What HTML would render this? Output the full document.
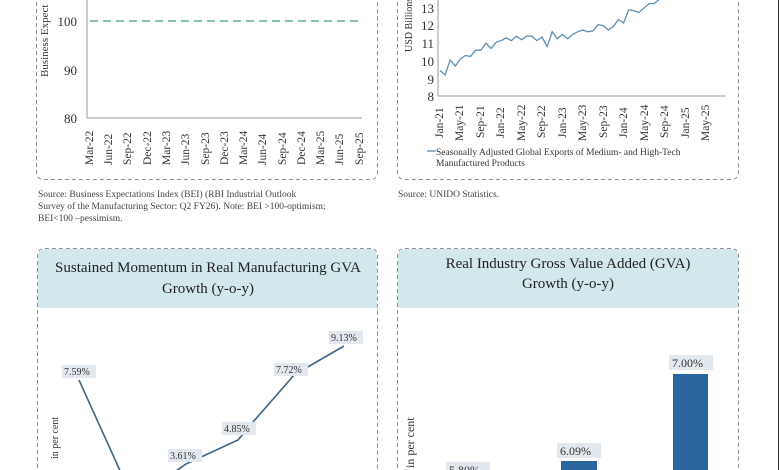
<!DOCTYPE html>
<html><head><meta charset="utf-8"><style>
html,body{margin:0;padding:0;background:#fff;}
svg{display:block;font-family:"Liberation Serif",serif;}
</style></head><body>
<svg width="780" height="470" viewBox="0 0 780 470" xmlns="http://www.w3.org/2000/svg">
<rect width="780" height="470" fill="#fff"/>
<line x1="778.5" y1="0" x2="778.5" y2="470" stroke="#333" stroke-width="1"/>
<!-- Top-left panel -->
<path d="M36.5,-5 V172 Q36.5,179.5 44,179.5 H370 Q377.5,179.5 377.5,172 V-5" fill="none" stroke="#8a8f96" stroke-width="1" stroke-dasharray="4,3"/>
<text transform="translate(48,77) rotate(-90)" font-size="11" fill="#333">Business Expect</text>
<g font-size="13" fill="#333" text-anchor="end">
<text x="77" y="26">100</text><text x="77" y="75">90</text><text x="77" y="123">80</text>
</g>
<line x1="87" y1="0" x2="87" y2="118" stroke="#999" stroke-width="1"/>
<line x1="87" y1="118" x2="362" y2="118" stroke="#999" stroke-width="1"/>
<line x1="90" y1="21" x2="360" y2="21" stroke="#5fae8c" stroke-width="1.5" stroke-dasharray="8,5"/>
<g font-size="11.5" fill="#333">
<text transform="translate(93,165) rotate(-90)">Mar-22</text>
<text transform="translate(112,165) rotate(-90)">Jun-22</text>
<text transform="translate(131,165) rotate(-90)">Sep-22</text>
<text transform="translate(151,165) rotate(-90)">Dec-22</text>
<text transform="translate(170,165) rotate(-90)">Mar-23</text>
<text transform="translate(189,165) rotate(-90)">Jun-23</text>
<text transform="translate(209,165) rotate(-90)">Sep-23</text>
<text transform="translate(228,165) rotate(-90)">Dec-23</text>
<text transform="translate(247,165) rotate(-90)">Mar-24</text>
<text transform="translate(266,165) rotate(-90)">Jun-24</text>
<text transform="translate(286,165) rotate(-90)">Sep-24</text>
<text transform="translate(305,165) rotate(-90)">Dec-24</text>
<text transform="translate(324,165) rotate(-90)">Mar-25</text>
<text transform="translate(343,165) rotate(-90)">Jun-25</text>
<text transform="translate(363,165) rotate(-90)">Sep-25</text>
</g>
<g font-size="9.5" fill="#444">
<text x="38" y="197">Source: Business Expectations Index (BEI) (RBI Industrial Outlook</text>
<text x="38" y="209">Survey of the Manufacturing Sector: Q2 FY26). Note: BEI &gt;100-optimism;</text>
<text x="38" y="221">BEI&lt;100 –pessimism.</text>
</g>
<!-- Top-right panel -->
<path d="M397.5,-5 V172 Q397.5,179.5 405,179.5 H731 Q738.5,179.5 738.5,172 V-5" fill="none" stroke="#8a8f96" stroke-width="1" stroke-dasharray="4,3"/>
<text transform="translate(412,52) rotate(-90)" font-size="10" fill="#333">USD Billions</text>
<g font-size="13" fill="#333" text-anchor="end">
<text x="434" y="13">13</text><text x="434" y="30">12</text><text x="434" y="48">11</text>
<text x="434" y="66">10</text><text x="434" y="84">9</text><text x="434" y="101">8</text>
</g>
<line x1="438" y1="0" x2="438" y2="96" stroke="#999"/>
<line x1="438" y1="96" x2="726" y2="96" stroke="#999"/>
<polyline fill="none" stroke="#5f8fb4" stroke-width="1.3" points="440,70.5 445.1,74.9 450.2,59.9 455.3,66.1 460.4,59 465.5,55.5 470.6,56.4 475.7,50.2 480.8,50.2 485.9,43.2 491,48.5 496.1,42.3 501.2,40.6 506.3,37.9 511.4,40.6 516.5,36.2 521.6,39.7 526.7,36.2 531.8,36.2 536.9,40.6 542,37 547.1,46.7 552.2,31.8 557.3,38.8 562.4,34.4 567.5,38.8 572.6,34.4 577.7,31.8 582.8,30 587.9,31.8 593,30.9 598.1,24.7 603.2,25.6 608.3,30 613.4,26.5 618.5,19.4 623.6,23 628.7,9.8 633.8,10.6 638.9,12.4 644,8 649.1,3.6 654.2,3.6 659.3,-0.8 664.4,-6"/>
<g font-size="11.5" fill="#333">
<text transform="translate(443,138) rotate(-90)">Jan-21</text>
<text transform="translate(463,141) rotate(-90)">May-21</text>
<text transform="translate(484,138) rotate(-90)">Sep-21</text>
<text transform="translate(504,138) rotate(-90)">Jan-22</text>
<text transform="translate(525,141) rotate(-90)">May-22</text>
<text transform="translate(545,138) rotate(-90)">Sep-22</text>
<text transform="translate(566,138) rotate(-90)">Jan-23</text>
<text transform="translate(586,141) rotate(-90)">May-23</text>
<text transform="translate(607,138) rotate(-90)">Sep-23</text>
<text transform="translate(627,138) rotate(-90)">Jan-24</text>
<text transform="translate(648,141) rotate(-90)">May-24</text>
<text transform="translate(668,138) rotate(-90)">Sep-24</text>
<text transform="translate(689,138) rotate(-90)">Jan-25</text>
<text transform="translate(709,141) rotate(-90)">May-25</text>
</g>
<line x1="427" y1="151" x2="436" y2="151" stroke="#5f8fb4" stroke-width="1.3"/>
<g font-size="9.5" fill="#333">
<text x="436" y="155">Seasonally Adjusted Global Exports of Medium- and High-Tech</text>
<text x="436" y="166">Manufactured Products</text>
</g>
<text x="398" y="197" font-size="9.5" fill="#444">Source: UNIDO Statistics.</text>
<!-- Bottom-left panel -->
<path d="M37.5,475 V256 Q37.5,248.5 45,248.5 H370 Q377.5,248.5 377.5,256 V475" fill="#fff" stroke="#8a8f96" stroke-width="1" stroke-dasharray="4,3"/>
<path d="M38,257 Q38,249 46,249 H369 Q377,249 377,257 V308 H38 Z" fill="#d3e8ec"/>
<g font-size="15" fill="#222" text-anchor="middle">
<text x="208" y="272">Sustained Momentum in Real Manufacturing GVA</text>
<text x="208" y="293">Growth (y-o-y)</text>
</g>
<text transform="translate(58,459) rotate(-90)" font-size="10" fill="#333">in per cent</text>
<polyline fill="none" stroke="#3d6587" stroke-width="1.6" points="79,380 122,475"/>
<polyline fill="none" stroke="#3d6587" stroke-width="1.6" points="170,475 186,464 199,458 238,440 253,422 295,374 306,368 344,346"/>
<g font-size="10" fill="#333">
<rect x="62" y="365" width="34" height="13" fill="#e2e8ee"/><text x="64" y="375">7.59%</text>
<rect x="168" y="449" width="34" height="13" fill="#e2e8ee"/><text x="170" y="459">3.61%</text>
<rect x="222" y="422" width="34" height="13" fill="#e2e8ee"/><text x="224" y="432">4.85%</text>
<rect x="274" y="363" width="34" height="13" fill="#e2e8ee"/><text x="276" y="373">7.72%</text>
<rect x="329" y="331" width="34" height="13" fill="#e2e8ee"/><text x="331" y="341">9.13%</text>
</g>
<!-- Bottom-right panel -->
<path d="M397.5,475 V256 Q397.5,248.5 405,248.5 H731 Q738.5,248.5 738.5,256 V475" fill="#fff" stroke="#8a8f96" stroke-width="1" stroke-dasharray="4,3"/>
<path d="M398,257 Q398,249 406,249 H730 Q738,249 738,257 V308 H398 Z" fill="#d3e8ec"/>
<g font-size="15" fill="#222" text-anchor="middle">
<text x="568" y="268">Real Industry Gross Value Added (GVA)</text>
<text x="568" y="288">Growth (y-o-y)</text>
</g>
<text transform="translate(414,468) rotate(-90)" font-size="12" fill="#333">in per cent</text>
<rect x="561" y="461" width="36" height="15" fill="#2a65a0"/>
<rect x="673" y="374" width="35" height="100" fill="#2a65a0"/>
<g font-size="12" fill="#333">
<rect x="446" y="462" width="44" height="14" fill="#e2e8ee"/><text x="449" y="474">5.80%</text>
<rect x="557" y="443" width="44" height="15" fill="#e2e8ee"/><text x="560" y="455">6.09%</text>
<rect x="669" y="355" width="44" height="15" fill="#e2e8ee"/><text x="672" y="367">7.00%</text>
</g>
</svg>
</body></html>
